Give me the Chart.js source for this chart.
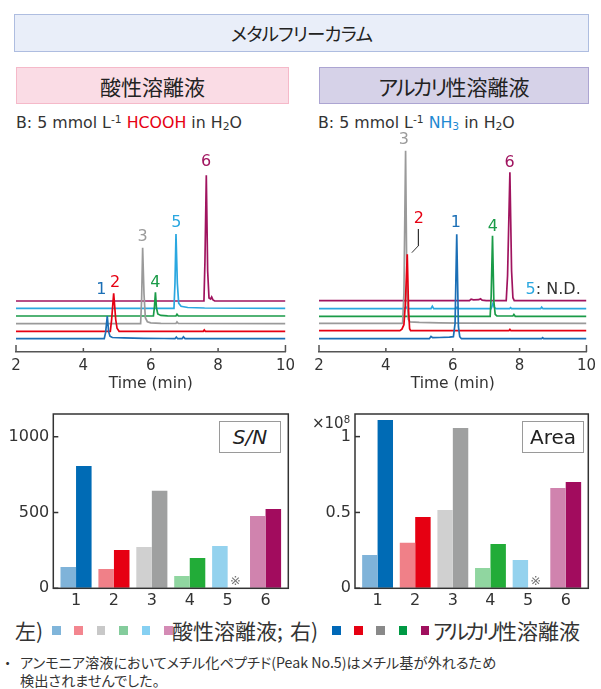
<!DOCTYPE html>
<html><head><meta charset="utf-8">
<script src="https://cdn.jsdelivr.net/npm/chart.js@4.4.0/dist/chart.umd.min.js"></script>
<style>
html,body{margin:0;padding:0;background:#fff;}
#wrap{position:relative;width:601px;height:689px;overflow:hidden;font-family:"DejaVu Sans","Noto Sans CJK JP",sans-serif;color:#222;font-feature-settings:"palt";}
.abs{position:absolute;white-space:nowrap;}
.hdr{position:absolute;box-sizing:border-box;display:flex;align-items:center;justify-content:center;font-family:"Noto Sans CJK JP",sans-serif;color:#222;}
canvas{position:absolute;}
sup{font-size:0.68em;vertical-align:0.45em;line-height:0;}
sub{font-size:0.68em;vertical-align:-0.2em;line-height:0;}
.jp{font-family:"Noto Sans CJK JP",sans-serif;}
.sq{position:absolute;width:8.5px;height:8.5px;}
.kana{letter-spacing:-3px;}
.tag{position:absolute;box-sizing:border-box;border:1.6px solid #9a9a9a;background:#fff;display:flex;align-items:center;justify-content:center;font-size:20px;color:#222;}
</style></head><body><div id="wrap">
<div class="hdr" style="left:14px;top:14px;width:575px;height:38px;background:#e9eef9;border:1.5px solid #aebde0;font-size:18.5px;letter-spacing:-0.8px;">メタルフリーカラム</div>
<div class="hdr" style="left:16px;top:67px;width:273px;height:37px;background:#fadce5;border:1.5px solid #f5b9c9;font-size:21px;">酸性溶離液</div>
<div class="hdr" style="left:319px;top:67px;width:270px;height:37px;background:#d6d2e8;border:1.5px solid #aca5d2;font-size:21px;"><span style="letter-spacing:-2px">アルカリ</span>性溶離液</div>

<div class="abs" style="left:16px;top:113px;font-size:15.8px;line-height:20px;color:#333">B: 5 mmol L<sup>-1</sup> <span style="color:#e60012">HCOOH</span> in H<sub>2</sub>O</div>
<div class="abs" style="left:318px;top:113px;font-size:15.8px;line-height:20px;color:#333">B: 5 mmol L<sup>-1</sup> <span style="color:#1f8ad2">NH<sub>3</sub></span> in H<sub>2</sub>O</div>

<canvas id="chromL" width="300" height="265" style="left:0;top:130px"></canvas>
<canvas id="chromR" width="301" height="265" style="left:300px;top:130px"></canvas>
<canvas id="barL" width="300" height="215" style="left:0;top:400px"></canvas>
<canvas id="barR" width="301" height="215" style="left:300px;top:400px"></canvas>

<div class="tag" style="left:219px;top:421px;width:62px;height:32px;font-style:italic;">S/N</div>
<div class="tag" style="left:522px;top:421px;width:62px;height:32px;">Area</div>
<div class="abs" style="left:312px;top:414px;font-size:15px;line-height:18px;color:#333">×10<sup>8</sup></div>

<div id="legend"></div>

<div class="abs jp" style="left:4px;top:653px;font-size:14.2px;line-height:18px;color:#333">・</div>
<div class="abs jp" style="left:20px;top:653px;font-size:14.2px;line-height:18px;color:#333">アンモニア溶液においてメチル化ペプチド(Peak No.5)はメチル基が外れるため<br>検出されませんでした。</div>
</div>
<script>
// ---------- data ----------
const timeTicks = [2, 4, 6, 8, 10];
const peakNumbers = ['1', '2', '3', '4', '5', '6'];

// acidic eluent chromatograms: [time (min), signal]
const acid1 = [[2,0],[4.62,0],[4.66,6],[4.71,22.7],[4.75,7],[4.79,2.5],[4.86,1.2],[5.2,0.8],[5.8,0.4],[6.4,0.2],[6.72,0],[6.76,1.6],[6.8,0],[6.93,0],[6.97,1.8],[7.02,0],[10,0]];
const acid2 = [[2,0],[4.8,0],[4.84,12],[4.9,38],[4.96,12],[5.0,3],[5.04,1],[5.06,0],[7.56,0],[7.59,1.3],[7.62,0],[10,0]];
const acid3 = [[2,0],[5.7,0],[5.73,25],[5.76,76],[5.8,30],[5.84,6],[5.9,2],[6.0,0.8],[6.3,0.3],[6.75,0.2],[6.78,1.8],[6.82,0.2],[10,0]];
const acid4 = [[2,0],[6.08,0],[6.11,9],[6.14,23.7],[6.17,8],[6.21,2],[6.3,0.6],[6.5,0.2],[6.75,0],[6.78,1.8],[6.82,0],[10,0]];
const acid5 = [[2,0],[6.69,0],[6.72,25],[6.75,74.3],[6.79,25],[6.83,5],[6.9,2],[7.1,0.8],[7.6,0.3],[10,0]];
const acid6 = [[2,0],[7.58,0],[7.61,40],[7.65,125.7],[7.69,30],[7.73,3],[7.78,2],[7.81,4],[7.85,1],[7.9,0],[10,0]];

// alkaline eluent chromatograms
const alk1 = [[2,0],[5.3,0],[5.35,2.2],[5.4,1],[5.6,1.2],[5.9,1.5],[6.02,2],[6.07,15],[6.12,104.4],[6.17,12],[6.21,2],[6.26,0],[8.66,0],[8.69,1],[8.72,0],[10,0]];
const alk2 = [[2,0],[4.42,0],[4.48,1.5],[4.54,6],[4.58,25],[4.64,76.4],[4.68,20],[4.71,2],[4.74,0],[7.68,0],[7.71,1.3],[7.74,0],[10,0]];
const alk3 = [[2,0],[4.5,0],[4.54,30],[4.59,172.6],[4.63,30],[4.67,4],[4.72,1.5],[5.0,1],[5.6,0.5],[6.2,0.2],[10,0]];
const alk4 = [[2,0],[7.12,0],[7.15,20],[7.19,80.6],[7.23,15],[7.27,2],[7.32,0.5],[7.8,0.3],[7.83,1.8],[7.87,0],[10,0]];
const alk5 = [[2,0],[4.56,0],[4.6,1.8],[4.64,0],[5.35,0],[5.39,2.5],[5.43,0],[6.1,0],[6.13,1.5],[6.16,0],[7.15,0],[7.2,5],[7.25,1],[7.3,0],[7.7,0],[7.73,1],[7.76,0],[8.63,0],[8.66,1.5],[8.7,0],[10,0]];
const alk6 = [[2,0],[6.5,0],[6.55,1.5],[6.62,0.8],[6.78,1],[6.83,2],[6.88,0.5],[7.0,0],[7.6,0],[7.64,25],[7.71,128.4],[7.76,30],[7.8,3],[7.84,0],[10,0]];

// bar values
const snAcid = [141, 128, 273, 81, 279, 477];
const snAlkali = [807, 253, 644, 200, null, 523];
const areaAcid = [0.22, 0.30, 0.516, 0.134, 0.187, 0.662];
const areaAlkali = [1.11, 0.47, 1.057, 0.292, null, 0.701];
const snTicks = [0, 500, 1000];
const areaTicks = [0, 0.5, 1];

// ---------- display config ----------
const traceColors = ['#1b6fb6', '#e60012', '#9a9a9a', '#1a9b48', '#2aa7e0', '#a0145f'];
const acidOffsets = [13.3, 20.7, 28.3, 36, 43.7, 51];
const alkOffsets = [13.3, 21.3, 28.7, 35.7, 43.3, 51.3];
const acidLabelPos = [[4.53,62],[4.94,69],[5.76,115],[6.14,69],[6.76,129],[7.64,190]];
const alkLabelPos = [[6.09,129],[4.99,133],[4.54,212],[7.2,125],null,[7.7,189]];
const barLight = ['#7fb3d9', '#f08088', '#d0d0d0', '#90d6a0', '#94d2ee', '#d083ae'];
const barDark = ['#006bb5', '#e60012', '#9fa0a0', '#22ac38', '#8ad1f1', '#a20c5e'];
const legLight = ['#80b5da', '#f3868f', '#c8c8c8', '#84cc9c', '#86d0f2', '#d48bb5'];
const legDark = ['#0068b7', '#e60012', '#898989', '#009944', '#a0105e'];

Chart.defaults.font.family = "'DejaVu Sans', sans-serif";
Chart.defaults.color = '#333';
Chart.defaults.animation = false;

const chromPlugin = {
  id: 'chromDecor',
  afterDatasetsDraw(chart, args, opts) {
    const {ctx, chartArea} = chart;
    const xs = chart.scales.x, ys = chart.scales.y;
    ctx.save();
    ctx.strokeStyle = '#555'; ctx.lineWidth = 1.5;
    xs.ticks.forEach((t, i) => {
      const px = xs.getPixelForValue(t.value);
      const len = (i === 0 || i === xs.ticks.length - 1) ? 7 : 4;
      ctx.beginPath(); ctx.moveTo(px, chartArea.bottom); ctx.lineTo(px, chartArea.bottom - len); ctx.stroke();
    });
    ctx.font = "16px 'DejaVu Sans'";
    ctx.textAlign = 'center'; ctx.textBaseline = 'middle';
    opts.labels.forEach((p, i) => {
      if (!p) return;
      ctx.fillStyle = traceColors[i];
      ctx.fillText(peakNumbers[i], xs.getPixelForValue(p[0]), ys.getPixelForValue(p[1]));
    });
    if (opts.nd) {
      ctx.textAlign = 'left';
      const x0 = xs.getPixelForValue(opts.nd[0]), y0 = ys.getPixelForValue(opts.nd[1]);
      ctx.fillStyle = traceColors[4];
      ctx.fillText('5', x0, y0);
      ctx.fillStyle = '#333';
      ctx.fillText(': N.D.', x0 + ctx.measureText('5').width, y0);
    }
    ctx.restore();
  }
};

function chromChart(id, traces, offsets, labels, padL, padR, extra, nd) {
  const datasets = traces.map((tr, i) => ({
    data: tr.map(p => ({x: p[0], y: p[1] + offsets[i]})),
    borderColor: traceColors[i], borderWidth: 1.7, pointRadius: 0, tension: 0, fill: false
  }));
  if (extra) datasets.push({data: extra.map(p => ({x: p[0], y: p[1]})), borderColor: '#333', borderWidth: 1, pointRadius: 0, tension: 0, fill: false});
  new Chart(document.getElementById(id), {
    type: 'line',
    data: {datasets},
    options: {
      responsive: false, devicePixelRatio: 1, parsing: true,
      layout: {padding: {left: padL, right: padR, top: 0, bottom: 0}},
      plugins: {legend: {display: false}, tooltip: {enabled: false}, chromDecor: {labels, nd}},
      scales: {
        x: {
          type: 'linear', min: 2, max: 10,
          afterBuildTicks: s => { s.ticks = timeTicks.map(v => ({value: v})); },
          afterFit: s => { s.height = 43; },
          grid: {display: true, drawOnChartArea: false, drawTicks: false},
          border: {display: true, color: '#555', width: 1.5},
          ticks: {font: {size: 15}, padding: 5, color: '#333', maxRotation: 0},
          title: {display: true, text: 'Time (min)', font: {size: 15.5}, color: '#333', padding: {top: 0, bottom: 2}}
        },
        y: {type: 'linear', min: 0, max: 222, display: false}
      }
    },
    plugins: [chromPlugin]
  });
}

chromChart('chromL', [acid1, acid2, acid3, acid4, acid5, acid6], acidOffsets, acidLabelPos, 16, 12, null, null);
const leader2 = [[4.974, 123], [4.974, 106.3], [4.777, 99.3]];
chromChart('chromR', [alk1, alk2, alk3, alk4, alk5, alk6], alkOffsets, alkLabelPos, 19, 10.3, leader2, [8.18, 62]);

const barPlugin = {
  id: 'barDecor',
  afterDatasetsDraw(chart) {
    const {ctx, chartArea} = chart;
    const ys = chart.scales.y;
    ctx.save();
    ctx.strokeStyle = '#333'; ctx.lineWidth = 1.5;
    ctx.strokeRect(chartArea.left, chartArea.top, chartArea.right - chartArea.left, chartArea.bottom - chartArea.top);
    ys.ticks.forEach(t => {
      const py = ys.getPixelForValue(t.value);
      ctx.beginPath(); ctx.moveTo(chartArea.left, py); ctx.lineTo(chartArea.left + 5, py); ctx.stroke();
    });
    const meta = chart.getDatasetMeta(1);
    chart.data.datasets[1].data.forEach((d, i) => {
      if (d.y === null) {
        ctx.fillStyle = '#777';
        ctx.font = "13px 'DejaVu Sans'";
        ctx.textAlign = 'center'; ctx.textBaseline = 'middle';
        ctx.fillText('※', meta.data[i].x, chartArea.bottom - 7);
      }
    });
    ctx.restore();
  }
};

function barChart(id, acidVals, alkVals, tickVals, yMax, yWidth, padR) {
  new Chart(document.getElementById(id), {
    type: 'bar',
    data: {datasets: [
      {data: acidVals.map((v, i) => ({x: i + 1, y: v})), backgroundColor: barLight, borderWidth: 0, categoryPercentage: 0.82, barPercentage: 1},
      {data: alkVals.map((v, i) => ({x: i + 1, y: v})), backgroundColor: barDark, borderWidth: 0, categoryPercentage: 0.82, barPercentage: 1}
    ]},
    options: {
      responsive: false, devicePixelRatio: 1,
      layout: {padding: {left: 0, right: padR, top: 14, bottom: 0}},
      plugins: {legend: {display: false}, tooltip: {enabled: false}},
      scales: {
        x: {
          type: 'linear', min: 0.4, max: 6.6, offset: false,
          afterBuildTicks: s => { s.ticks = peakNumbers.map((n, i) => ({value: i + 1})); },
          afterFit: s => { s.height = 26.7; },
          grid: {display: true, drawOnChartArea: false, drawTicks: false},
          border: {display: false},
          ticks: {font: {size: 16}, padding: 3, color: '#333', maxRotation: 0, callback: (v, i) => peakNumbers[i]}
        },
        y: {
          type: 'linear', min: 0, max: yMax,
          afterBuildTicks: s => { s.ticks = tickVals.map(v => ({value: v})); },
          afterFit: s => { s.width = yWidth; },
          grid: {display: true, drawOnChartArea: false, drawTicks: false},
          border: {display: false},
          ticks: {font: {size: 16}, padding: 4, color: '#333', callback: v => String(v)}
        }
      }
    },
    plugins: [barPlugin]
  });
}

barChart('barL', snAcid, snAlkali, snTicks, 1150, 53.3, 11.7);
barChart('barR', areaAcid, areaAlkali, areaTicks, 1.149, 55, 12.7);

// legend (HTML)
const leg = document.getElementById('legend');
function addText(html, x) {
  const d = document.createElement('div');
  d.className = 'abs jp'; d.innerHTML = html;
  d.style.cssText = 'left:' + x + 'px;top:617px;font-size:21px;line-height:26px;color:#333;';
  leg.appendChild(d);
}
function addSquares(colors, x0, step) {
  colors.forEach((c, i) => {
    const s = document.createElement('div');
    s.className = 'sq';
    s.style.cssText = 'left:' + (x0 + step * i) + 'px;top:626px;background:' + c + ';';
    leg.appendChild(s);
  });
}
addText('左)', 15);
addSquares(legLight, 52, 22.4);
addText('酸性溶離液;', 172);
addText('右)', 290);
addSquares(legDark, 332, 22.2);
addText('<span class="kana">アルカリ</span>性溶離液', 433);
</script>
</body></html>
